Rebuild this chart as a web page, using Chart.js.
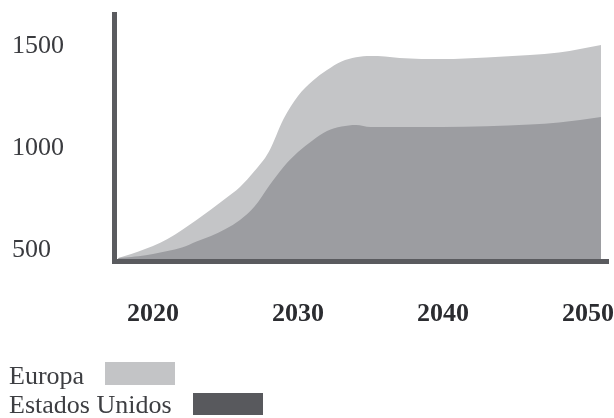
<!DOCTYPE html>
<html>
<head>
<meta charset="utf-8">
<script src="https://cdn.jsdelivr.net/npm/chart.js@4.4.1/dist/chart.umd.min.js"></script>
<style>
  html, body { margin: 0; padding: 0; background: #ffffff; }
  #wrap { position: relative; width: 614px; height: 418px; overflow: hidden; }
  #chart { position: absolute; left: 0; top: 0; }
  .lg-row { position: absolute; left: 9px; display: flex; align-items: center; height: 26px;
            font-family: "Liberation Serif", "DejaVu Serif", serif; font-size: 26px; line-height: 26px; color: #3d3e42; }
  .lg-sw { display: inline-block; width: 70px; margin-left: 21px; }
</style>
</head>
<body>
<div id="wrap">
  <canvas id="chart" width="614" height="418"></canvas>
  <div id="legend"></div>
</div>
<script>
// ---- data ----
const years = [2017.6, 2018.5, 2019, 2020, 2021, 2022, 2023, 2024, 2025, 2026, 2027, 2028, 2029, 2030, 2031, 2032, 2033, 2034, 2035, 2036, 2037, 2040, 2043, 2046, 2048, 2050.9];
const europa = [461, 480, 493, 520, 554, 598, 647, 698, 752, 809, 887, 983, 1142, 1255, 1328, 1382, 1424, 1445, 1451, 1449, 1441, 1436, 1444, 1456, 1468, 1505];
const estadosUnidos = [461, 466, 469, 480, 495, 512, 542, 569, 603, 647, 713, 814, 907, 980, 1037, 1083, 1105, 1113, 1103, 1103, 1103, 1103, 1107, 1115, 1125, 1152];
const seriesNames = ['Europa', 'Estados Unidos'];
const xTickValues = [2020, 2030, 2040, 2050];
const xTickLabels = ['2020', '2030', '2040', '2050'];
const yTickValues = [500, 1000, 1500];
const yTickLabels = ['500', '1000', '1500'];

// ---- styles ----
const areaColors = ['#c4c5c7', '#9c9da1'];
const legendColors = ['#c3c4c6', '#58595d'];
const axisColor = '#5a5b5f';
const serif = '"Liberation Serif", "DejaVu Serif", serif';

const toPts = (vals) => vals.map((v, i) => ({ x: years[i], y: v }));

const chart = new Chart(document.getElementById('chart'), {
  type: 'line',
  data: {
    datasets: [
      { label: seriesNames[0], data: toPts(europa), backgroundColor: areaColors[0], borderWidth: 0,
        pointRadius: 0, fill: 'start', cubicInterpolationMode: 'monotone', order: 2 },
      { label: seriesNames[1], data: toPts(estadosUnidos), backgroundColor: areaColors[1], borderWidth: 0,
        pointRadius: 0, fill: 'start', cubicInterpolationMode: 'monotone', order: 1 }
    ]
  },
  options: {
    responsive: false,
    animation: false,
    events: [],
    layout: { padding: { left: 12, top: 14.5, right: 6, bottom: 0 } },
    plugins: { legend: { display: false }, tooltip: { enabled: false }, title: { display: false } },
    scales: {
      x: {
        type: 'linear',
        min: 2017.345,
        max: 2051.379,
        grid: { display: false, drawTicks: false },
        border: { display: true, color: axisColor, width: 5, z: 1 },
        ticks: {
          padding: 37,
          color: '#2b2c30',
          font: { family: serif, size: 26, weight: 'bold' },
          maxRotation: 0,
          autoSkip: false,
          callback: (v, i) => xTickLabels[i]
        },
        afterBuildTicks: (s) => { s.ticks = xTickValues.map(v => ({ value: v })); },
        afterFit: (s) => { s.height = 418 - 261.5; s.paddingLeft = 0; s.paddingRight = 0; }
      },
      y: {
        type: 'linear',
        min: 443.6,
        max: 1654.4,
        grid: { display: false, drawTicks: false },
        border: { display: true, color: axisColor, width: 5, z: 1 },
        ticks: {
          crossAlign: 'far',
          color: '#3a3b3f',
          font: { family: serif, size: 26 },
          autoSkip: false,
          callback: (v, i) => yTickLabels[i]
        },
        afterBuildTicks: (s) => { s.ticks = yTickValues.map(v => ({ value: v })); },
        afterFit: (s) => { s.width = 102.5; s.paddingTop = 0; s.paddingBottom = 0; }
      }
    }
  }
});

// ---- legend (text followed by swatch) ----
const legend = document.getElementById('legend');
const rowTops = [363, 392];
chart.data.datasets.forEach((ds, i) => {
  const row = document.createElement('div');
  row.className = 'lg-row';
  row.style.top = rowTops[i] + 'px';
  const t = document.createElement('span');
  t.textContent = ds.label;
  const sw = document.createElement('span');
  sw.className = 'lg-sw';
  sw.style.height = (i === 0 ? 23 : 22) + 'px';
  sw.style.background = legendColors[i];
  sw.style.position = 'relative';
  sw.style.top = (i === 0 ? -2.5 : -1) + 'px';
  row.appendChild(t);
  row.appendChild(sw);
  legend.appendChild(row);
});
</script>
</body>
</html>
